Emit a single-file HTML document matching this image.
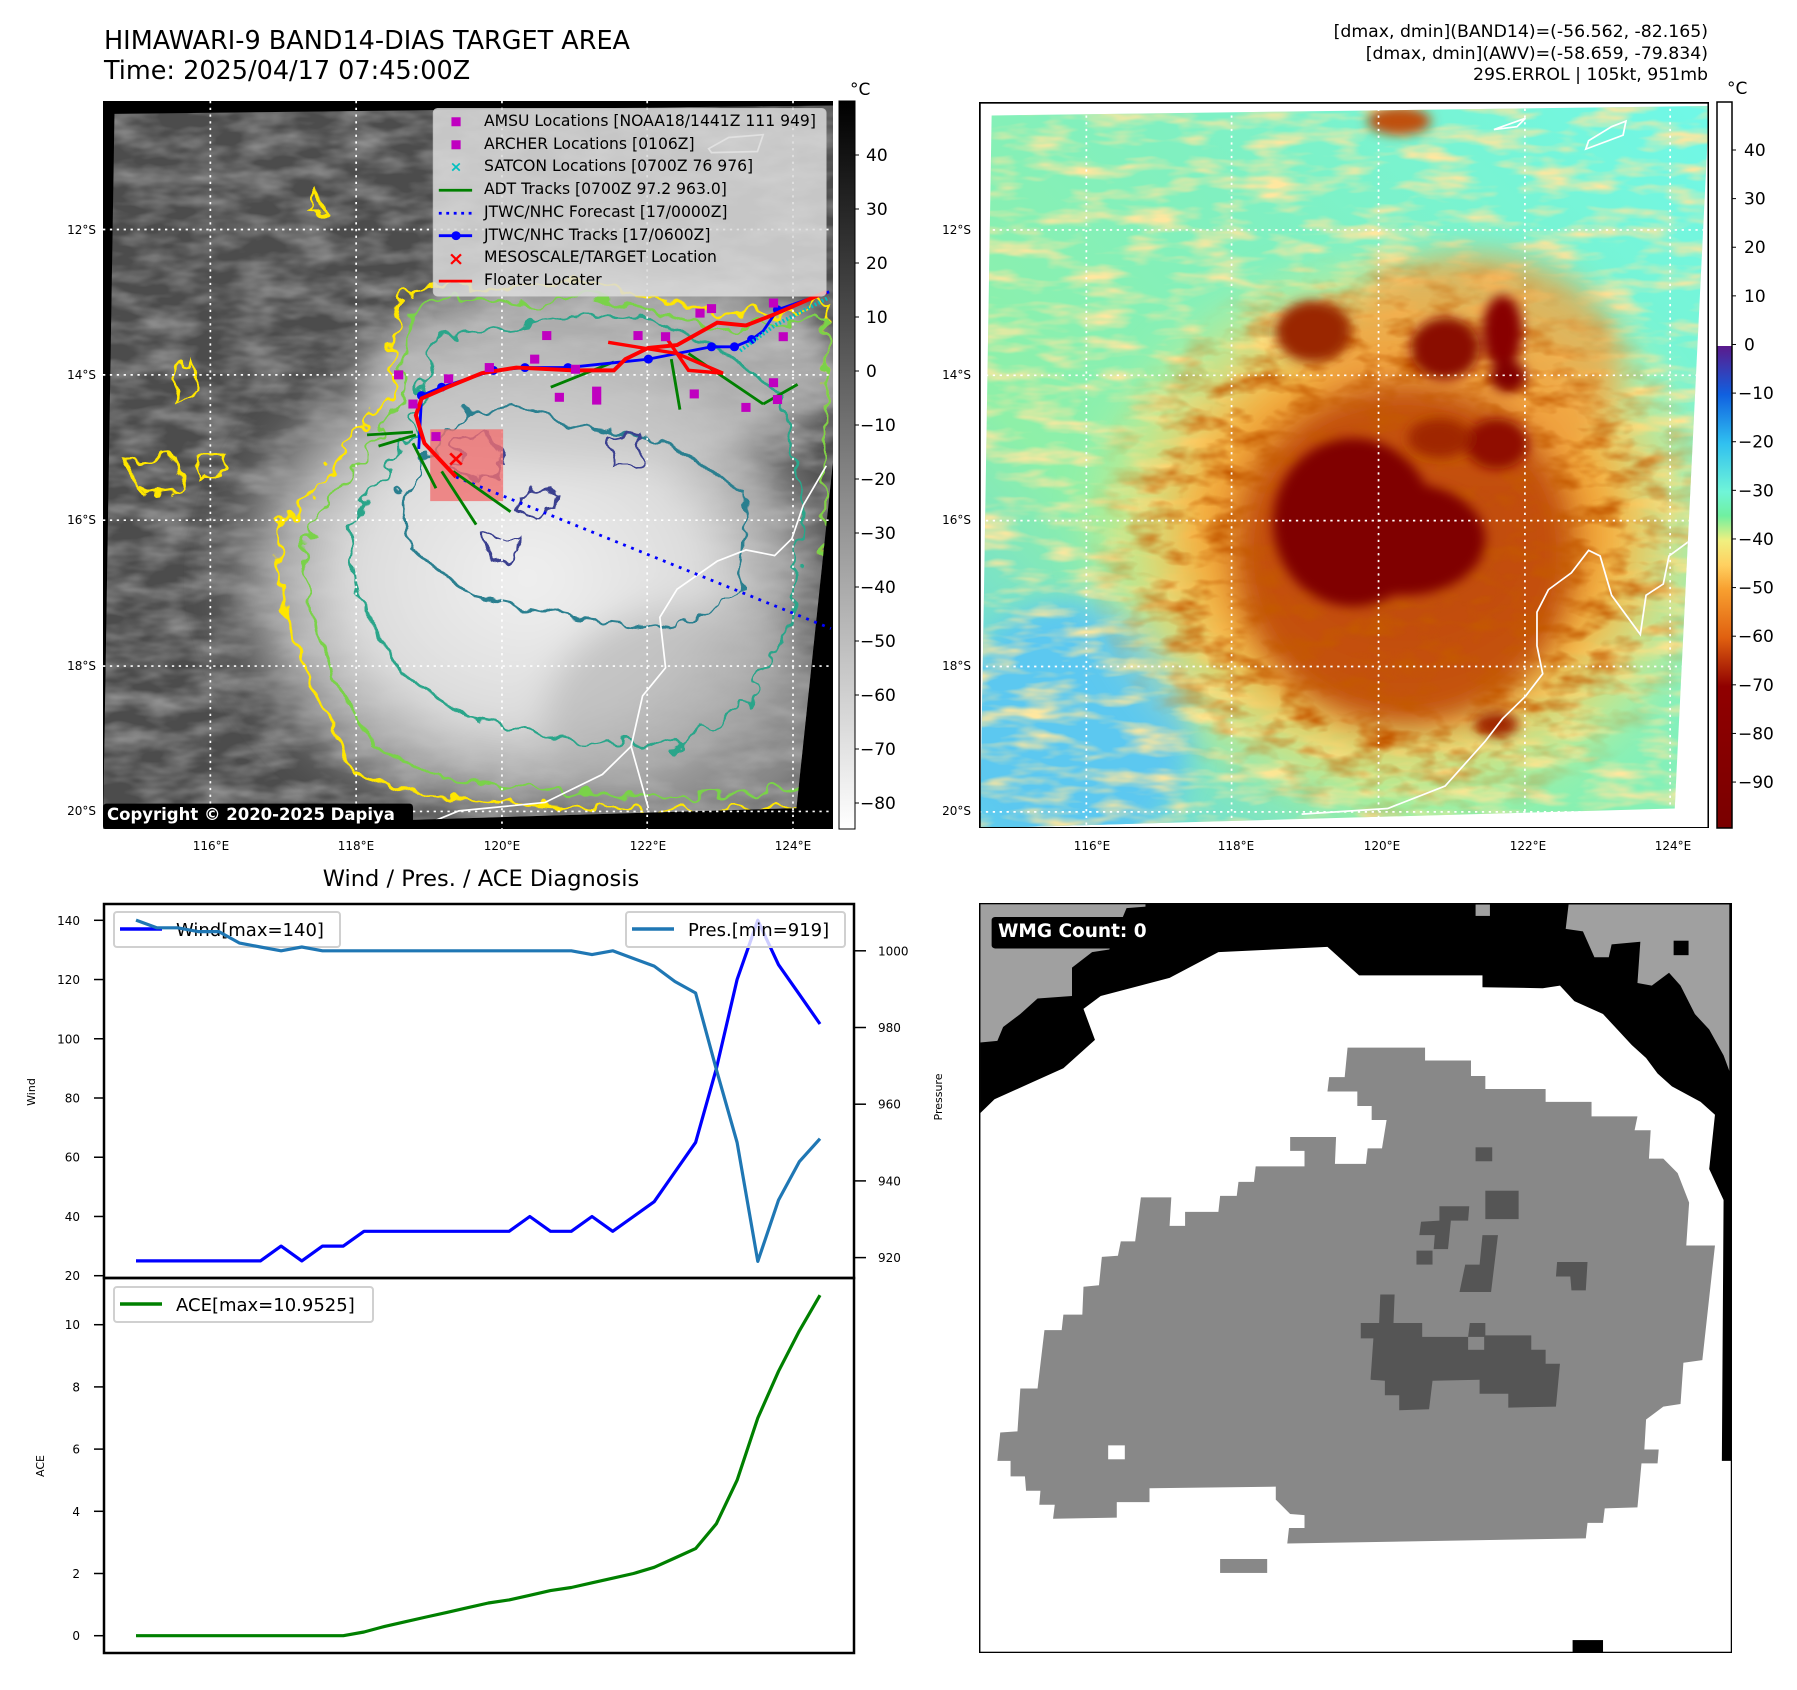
<!DOCTYPE html>
<html><head><meta charset="utf-8">
<style>
html,body{margin:0;padding:0;background:#fff;}
body{width:1797px;height:1690px;position:relative;overflow:hidden;font-family:"DejaVu Sans","Liberation Sans",sans-serif;color:#000;}
.abs{position:absolute;}
.t{position:absolute;white-space:nowrap;}
</style></head>
<body>
<div class="t" style="left:104px;top:26px;font-size:25.5px;line-height:30px;">HIMAWARI-9 BAND14-DIAS TARGET AREA<br>Time: 2025/04/17 07:45:00Z</div>
<div class="t" style="right:89px;top:22px;font-size:17.3px;line-height:21.5px;text-align:right;">[dmax, dmin](BAND14)=(-56.562, -82.165)<br>[dmax, dmin](AWV)=(-58.659, -79.834)<br>29S.ERROL | 105kt, 951mb</div>

<!-- MAP 1 -->
<svg class="abs" style="left:103.3px;top:101px;width:730.2px;height:728.4px" viewBox="180 180 1272 1298" preserveAspectRatio="none">
<defs>
<filter id="tex1" x="0" y="0" width="1" height="1"><feTurbulence type="fractalNoise" baseFrequency="0.012 0.03" numOctaves="3" seed="4"/><feColorMatrix type="matrix" values="0 0 0 0 0.42  0 0 0 0 0.42  0 0 0 0 0.42  0 0 0 1.3 -0.45"/></filter>
<filter id="wig" x="-10%" y="-10%" width="120%" height="120%"><feTurbulence type="fractalNoise" baseFrequency="0.03" numOctaves="2" seed="7" result="n"/><feDisplacementMap in="SourceGraphic" in2="n" scale="45"/></filter>
<filter id="bl1"><feGaussianBlur stdDeviation="30"/></filter>
<radialGradient id="cl1" cx="0.5" cy="0.5" r="0.5"><stop offset="0" stop-color="#f0f0f0"/><stop offset="0.55" stop-color="#dcdcdc"/><stop offset="0.8" stop-color="#b8b8b8" stop-opacity="0.8"/><stop offset="1" stop-color="#888" stop-opacity="0"/></radialGradient>
<clipPath id="img1"><polygon points="200,203 1452,188 1452,820 1388,1440 180,1478"/></clipPath>
</defs>
<rect x="180" y="180" width="1272" height="1298" fill="#000"/>
<g clip-path="url(#img1)">
<rect x="180" y="180" width="1272" height="1298" fill="#4c4c4c"/>
<rect x="180" y="180" width="1272" height="1298" filter="url(#tex1)"/>
<g filter="url(#bl1)">
<ellipse cx="920" cy="1030" rx="560" ry="470" fill="url(#cl1)"/>
<ellipse cx="1050" cy="660" rx="420" ry="170" fill="#c8c8c8" opacity="0.75"/>
<ellipse cx="1200" cy="1280" rx="250" ry="200" fill="#b0b0b0" opacity="0.6"/>
</g>
<g fill="none" stroke-width="5" filter="url(#wig)">
<path d="M700,520 L800,505 L900,520 L1000,500 L1100,520 L1250,560 L1350,560 L1440,540 L1440,1440 L1200,1445 L1000,1440 L750,1420 L620,1380 L560,1250 L500,1100 L480,950 L560,850 L620,780 L680,700 L690,580 Z" stroke="#ffe600"/>
<path d="M330,640 L350,700 L310,720 L300,680 Z M220,820 L300,810 L320,870 L250,880 Z M550,340 L570,380 L545,380 Z M350,820 L400,820 L390,850 L340,845 Z" stroke="#ffe600"/>
<path d="M720,545 L820,530 L920,545 L1010,525 L1110,545 L1240,585 L1440,570 L1440,1400 L1200,1420 L1000,1410 L770,1390 L650,1330 L590,1220 L540,1090 L530,960 L600,860 L650,790 L700,720 L710,600 Z" stroke="#7ad24a"/>
<path d="M760,600 L900,580 L1020,560 L1140,570 L1250,620 L1360,700 L1400,900 L1380,1100 L1300,1250 L1180,1330 L1000,1320 L820,1280 L700,1200 L630,1080 L610,940 L670,840 L720,760 Z" stroke="#2ca58a"/>
<path d="M800,740 L900,720 L1000,760 L1150,780 L1300,880 L1290,1050 L1180,1120 L1000,1100 L820,1060 L720,980 L700,880 Z" stroke="#2b7f8f"/>
<path d="M800,790 L860,780 L880,830 L840,860 L790,840 Z M1060,780 L1110,770 L1120,820 L1070,830 Z M850,960 L900,950 L910,990 L860,1000 Z M900,880 L960,870 L970,910 L910,920 Z" stroke="#3a3f8f"/>
</g>
<path d="M1130,1440 L1100,1330 L1120,1240 L1160,1190 L1150,1100 L1180,1050 L1250,1000 L1300,980 L1350,990 L1380,960 L1400,900 L1440,830" fill="none" stroke="#fff" stroke-width="3"/>
<path d="M740,1470 L800,1445 L950,1430 L1050,1380 L1100,1330" fill="none" stroke="#fff" stroke-width="3"/>
<path d="M1235,265 L1270,245 L1330,240 L1320,270 L1240,272 Z" fill="none" stroke="#fff" stroke-width="3"/>
</g>
<g stroke="#fff" stroke-width="3" stroke-dasharray="4 8">
<line x1="367" y1="180" x2="367" y2="1478"/><line x1="621" y1="180" x2="621" y2="1478"/><line x1="875" y1="180" x2="875" y2="1478"/><line x1="1128" y1="180" x2="1128" y2="1478"/><line x1="1382" y1="180" x2="1382" y2="1478"/>
<line x1="180" y1="409" x2="1452" y2="409"/><line x1="180" y1="668" x2="1452" y2="668"/><line x1="180" y1="927" x2="1452" y2="927"/><line x1="180" y1="1187" x2="1452" y2="1187"/><line x1="180" y1="1446" x2="1452" y2="1446"/>
</g>
<rect x="750" y="765" width="127" height="128" fill="#f07070" opacity="0.8"/>
<line x1="795" y1="850" x2="1448" y2="1120" stroke="#0000ff" stroke-width="5" stroke-dasharray="5 10"/>
<g stroke="#008000" stroke-width="5">
<line x1="640" y1="775" x2="720" y2="770"/><line x1="720" y1="790" x2="760" y2="870"/><line x1="770" y1="840" x2="830" y2="935"/><line x1="790" y1="840" x2="890" y2="912"/><line x1="960" y1="690" x2="1070" y2="645"/><line x1="1170" y1="640" x2="1185" y2="730"/><line x1="1200" y1="630" x2="1330" y2="720"/><line x1="1330" y1="720" x2="1390" y2="685"/><line x1="660" y1="795" x2="725" y2="775"/>
</g>
<polyline points="730,800 735,705 770,690 860,660 915,655 990,655 1130,640 1240,618 1280,618 1310,605 1330,590 1355,552 1445,520" fill="none" stroke="#0000ff" stroke-width="5"/>
<g fill="#0000ff"><circle cx="735" cy="705" r="8"/><circle cx="770" cy="690" r="8"/><circle cx="860" cy="660" r="8"/><circle cx="915" cy="655" r="8"/><circle cx="990" cy="655" r="8"/><circle cx="1130" cy="640" r="8"/><circle cx="1240" cy="618" r="8"/><circle cx="1280" cy="618" r="8"/><circle cx="1310" cy="605" r="8"/><circle cx="1355" cy="552" r="8"/></g>
<polyline points="1290,625 1350,580 1445,530" fill="none" stroke="#00c0c0" stroke-width="7" stroke-dasharray="3 4"/>
<polyline points="795,850 740,790 725,740 735,710 780,690 840,665 900,655 1000,660 1070,660 1090,640 1130,620 1180,615 1250,575 1300,580 1350,560 1440,520" fill="none" stroke="#ff0000" stroke-width="7"/>
<polyline points="1060,610 1180,630 1260,665 1200,660 1160,600" fill="none" stroke="#ff0000" stroke-width="6"/>
<g fill="#c000c0">
<rect x="687" y="660" width="16" height="16"/><rect x="712" y="712" width="16" height="16"/><rect x="774" y="667" width="16" height="16"/><rect x="752" y="770" width="16" height="16"/><rect x="845" y="647" width="16" height="16"/><rect x="924" y="632" width="16" height="16"/><rect x="945" y="590" width="16" height="16"/><rect x="967" y="700" width="16" height="16"/><rect x="995" y="650" width="16" height="16"/><rect x="1032" y="689" width="16" height="32"/><rect x="1104" y="590" width="16" height="16"/><rect x="1152" y="592" width="16" height="16"/><rect x="1202" y="694" width="16" height="16"/><rect x="1212" y="550" width="16" height="16"/><rect x="1232" y="542" width="16" height="16"/><rect x="1292" y="718" width="16" height="16"/><rect x="1340" y="532" width="16" height="16"/><rect x="1340" y="674" width="16" height="16"/><rect x="1347" y="704" width="16" height="16"/><rect x="1357" y="592" width="16" height="16"/></g>
<text x="795" y="830" fill="#ff0000" font-size="40" font-weight="bold" text-anchor="middle">×</text>
<g>
<rect x="755" y="193" width="685" height="335" rx="8" fill="#dcdcdc" opacity="0.85" stroke="#ccc"/>
<rect x="787" y="209" width="16" height="16" fill="#c000c0"/>
<rect x="787" y="250" width="16" height="16" fill="#c000c0"/>
<text x="795" y="306" fill="#00c0c0" font-size="26" font-weight="bold" text-anchor="middle">×</text>
<line x1="765" y1="339" x2="823" y2="339" stroke="#008000" stroke-width="5"/>
<line x1="765" y1="380" x2="823" y2="380" stroke="#0000ff" stroke-width="5" stroke-dasharray="5 8"/>
<line x1="765" y1="420" x2="823" y2="420" stroke="#0000ff" stroke-width="5"/><circle cx="795" cy="420" r="8" fill="#0000ff"/>
<text x="795" y="472" fill="#ff0000" font-size="34" font-weight="bold" text-anchor="middle">×</text>
<line x1="765" y1="501" x2="823" y2="501" stroke="#ff0000" stroke-width="5"/>
</g>
<rect x="180" y="1432" width="540" height="46" rx="6" fill="#000"/>
</svg>
<div class="t" style="left:484px;top:110px;font-size:15.6px;line-height:22.7px;">AMSU Locations [NOAA18/1441Z 111 949]<br>ARCHER Locations [0106Z]<br>SATCON Locations [0700Z 76 976]<br>ADT Tracks [0700Z 97.2 963.0]<br>JTWC/NHC Forecast [17/0000Z]<br>JTWC/NHC Tracks [17/0600Z]<br>MESOSCALE/TARGET Location<br>Floater Locater</div>
<div class="t" style="left:107px;top:805px;font-size:16.5px;font-weight:bold;color:#fff;">Copyright © 2020-2025 Dapiya</div>

<!-- MAP 2 -->
<svg class="abs" style="left:979.2px;top:101.6px;width:730.2px;height:726.7px" viewBox="138 181 1272 1295" preserveAspectRatio="none">
<defs>
<linearGradient id="bg2" x1="1" y1="0" x2="0" y2="1"><stop offset="0" stop-color="#6ff8e8"/><stop offset="0.4" stop-color="#80f0c0"/><stop offset="0.7" stop-color="#8ef0a8"/><stop offset="1" stop-color="#60d0f0"/></linearGradient>
<filter id="bl2"><feGaussianBlur stdDeviation="25"/></filter>
<filter id="bl3"><feGaussianBlur stdDeviation="10"/></filter>
<filter id="tex2" x="0" y="0" width="1" height="1"><feTurbulence type="fractalNoise" baseFrequency="0.01 0.035" numOctaves="3" seed="9"/><feColorMatrix type="matrix" values="0 0 0 0 1  0 0 0 0 0.8  0 0 0 0 0.35  0 0 0 2.6 -1.15"/></filter>
<filter id="tex3" x="0" y="0" width="1" height="1"><feTurbulence type="fractalNoise" baseFrequency="0.015 0.03" numOctaves="3" seed="3"/><feColorMatrix type="matrix" values="0 0 0 0 0.55  0 0 0 0 0.1  0 0 0 0 0  0 0 0 2.2 -0.95"/></filter>
<radialGradient id="or2" cx="0.5" cy="0.5" r="0.5"><stop offset="0" stop-color="#c04808"/><stop offset="0.4" stop-color="#e07a20"/><stop offset="0.62" stop-color="#f5b040"/><stop offset="0.8" stop-color="#fbd868" stop-opacity="0.6"/><stop offset="1" stop-color="#f0f080" stop-opacity="0"/></radialGradient>
<radialGradient id="mk2" cx="0.5" cy="0.5" r="0.5"><stop offset="0" stop-color="#fff"/><stop offset="0.7" stop-color="#fff"/><stop offset="1" stop-color="#000"/></radialGradient>
<mask id="m2"><ellipse cx="880" cy="960" rx="560" ry="520" fill="url(#mk2)"/></mask>
<clipPath id="img2"><polygon points="160,205 1410,188 1350,1440 140,1475"/></clipPath>
</defs>
<rect x="138" y="181" width="1272" height="1295" fill="#fff"/>
<g clip-path="url(#img2)">
<rect x="138" y="181" width="1272" height="1295" fill="url(#bg2)"/>
<ellipse cx="300" cy="1300" rx="210" ry="230" fill="#5cc8f0" filter="url(#bl2)"/>
<rect x="138" y="181" width="1272" height="1295" filter="url(#tex2)"/>
<g filter="url(#bl2)">
<ellipse cx="880" cy="950" rx="580" ry="520" fill="url(#or2)"/>
<ellipse cx="1000" cy="650" rx="260" ry="200" fill="#f0a040" opacity="0.7"/>
<ellipse cx="880" cy="990" rx="300" ry="310" fill="#c04a08" opacity="0.9"/>
</g>
<rect x="138" y="181" width="1272" height="1295" filter="url(#tex3)" mask="url(#m2)"/>
<g filter="url(#bl3)">
<ellipse cx="790" cy="930" rx="140" ry="150" fill="#800000"/>
<ellipse cx="880" cy="960" rx="140" ry="100" fill="#800000"/>
<ellipse cx="720" cy="590" rx="65" ry="55" fill="#9a2800"/>
<ellipse cx="950" cy="620" rx="60" ry="55" fill="#8a1000"/>
<ellipse cx="1050" cy="590" rx="35" ry="65" fill="#880000"/>
<ellipse cx="1060" cy="670" rx="32" ry="28" fill="#800000"/>
<ellipse cx="1040" cy="790" rx="55" ry="45" fill="#900800"/>
<ellipse cx="940" cy="780" rx="55" ry="35" fill="#a02800"/>
<ellipse cx="1040" cy="1290" rx="38" ry="22" fill="#a02800"/>
<ellipse cx="870" cy="215" rx="55" ry="25" fill="#c05010"/>
</g>
<path d="M700,1450 L850,1440 L950,1400 L1020,1320 L1050,1280 L1090,1240 L1120,1200 L1110,1150 L1110,1090 L1130,1050 L1170,1020 L1200,980 L1220,990 L1240,1060 L1290,1130 L1300,1060 L1330,1040 L1340,990 L1380,960 L1400,900" fill="none" stroke="#fff" stroke-width="3"/>
<path d="M1195,265 L1260,240 L1265,215 L1240,225 L1200,250 Z M1035,230 L1090,210 L1075,225 Z" fill="none" stroke="#fff" stroke-width="3"/>
</g>
<g stroke="#fff" stroke-width="3" stroke-dasharray="4 8">
<line x1="325" y1="181" x2="325" y2="1476"/><line x1="578" y1="181" x2="578" y2="1476"/><line x1="834" y1="181" x2="834" y2="1476"/><line x1="1089" y1="181" x2="1089" y2="1476"/><line x1="1342" y1="181" x2="1342" y2="1476"/>
<line x1="138" y1="409" x2="1410" y2="409"/><line x1="138" y1="668" x2="1410" y2="668"/><line x1="138" y1="927" x2="1410" y2="927"/><line x1="138" y1="1187" x2="1410" y2="1187"/><line x1="138" y1="1446" x2="1410" y2="1446"/>
</g>
<rect x="138" y="181" width="1272" height="1295" fill="none" stroke="#000" stroke-width="6"/>
</svg>

<!-- WMG panel -->
<svg class="abs" style="left:979.2px;top:903.2px;width:753.2px;height:750px" viewBox="138 45 1312 1452" preserveAspectRatio="none">
<rect x="138" y="45" width="1312" height="1452" fill="#fff"/>
<polygon fill="#000" points="140,45 1450,45 1450,1125 1432,1125 1435,620 1410,560 1420,455 1395,430 1345,400 1320,375 1300,345 1275,320 1250,290 1225,260 1175,235 1150,205 1120,210 1015,208 1015,185 800,185 745,130 555,140 470,190 350,225 320,250 340,310 285,365 225,395 165,425 140,452"/>
<polygon fill="#a0a0a0" points="140,45 428,45 428,52 395,55 365,135 335,140 300,170 300,225 240,230 210,260 180,285 170,312 140,315"/>
<polygon fill="#a0a0a0" points="1165,48 1445,48 1445,370 1435,340 1410,290 1385,260 1360,205 1340,180 1310,205 1285,200 1290,120 1240,125 1235,150 1210,150 1190,100 1160,95"/>
<rect x="1003" y="48" width="25" height="22" fill="#a0a0a0"/>
<rect x="1348" y="118" width="26" height="28" fill="#000"/>
<polygon fill="#888" points="780,325 915,325 915,350 995,350 995,380 1020,380 1020,405 1125,405 1125,430 1205,430 1205,458 1285,458 1280,485 1308,485 1305,540 1330,540 1355,568 1375,625 1370,708 1420,708 1398,930 1365,935 1360,1015 1330,1020 1300,1045 1297,1103 1322,1103 1320,1130 1292,1130 1285,1215 1228,1217 1225,1245 1198,1245 1195,1275 675,1285 678,1255 705,1255 705,1230 680,1228 655,1200 655,1175 435,1178 435,1205 378,1205 378,1235 267,1237 270,1210 243,1210 245,1183 220,1183 218,1155 193,1155 193,1125 170,1125 175,1070 205,1068 210,985 240,985 252,872 282,872 285,842 318,842 320,788 347,785 352,730 380,728 385,700 410,700 420,615 473,615 470,670 497,670 497,643 555,643 558,612 587,612 590,585 617,585 620,555 705,555 705,525 680,525 680,498 760,498 758,550 812,550 815,520 840,520 848,465 822,465 822,438 797,438 797,410 745,410 748,382 775,382"/>
<rect x="363" y="1095" width="29" height="27" fill="#fff"/>
<rect x="558" y="1315" width="82" height="27" fill="#888"/>
<g fill="#555">
<rect x="1003" y="518" width="29" height="27"/><rect x="1020" y="602" width="58" height="55"/>
<polygon points="940,632 992,632 990,660 960,660 955,715 930,715 932,688 905,688 908,662 940,660"/>
<rect x="900" y="718" width="28" height="27"/>
<polygon points="1015,688 1042,688 1030,798 975,798 985,745 1010,745"/>
<polygon points="1145,740 1198,740 1195,795 1170,795 1168,768 1143,768"/>
<polygon points="837,803 862,803 860,858 910,858 910,885 990,885 993,858 1020,858 1020,882 1100,882 1100,910 1125,910 1125,937 1150,937 1143,1020 1060,1022 1060,995 1010,995 1010,968 928,970 922,1025 870,1027 870,998 845,998 845,970 820,968 825,888 803,888 803,858 835,858"/>
</g>
<rect x="990" y="885" width="28" height="25" fill="#888"/>
<rect x="1172" y="1472" width="53" height="25" fill="#000"/>
<rect x="160" y="72" width="240" height="61" rx="6" fill="#000"/>
<rect x="138" y="45" width="1312" height="1452" fill="none" stroke="#000" stroke-width="5"/>
</svg>
<div class="t" style="left:998px;top:921px;font-size:18.5px;font-weight:bold;color:#fff;">WMG Count: 0</div>

<svg id="ov" class="abs" style="left:0;top:0" width="1797" height="1690">
<defs>
<linearGradient id="cb1" x1="0" y1="0" x2="0" y2="1"><stop offset="0" stop-color="#000"/><stop offset="1" stop-color="#fff"/></linearGradient>
<linearGradient id="cb2" x1="0" y1="0" x2="0" y2="1">
<stop offset="0" stop-color="#fff"/><stop offset="0.336" stop-color="#fff"/><stop offset="0.336" stop-color="#5b1a8c"/><stop offset="0.403" stop-color="#1060e0"/><stop offset="0.47" stop-color="#30c0f0"/><stop offset="0.537" stop-color="#70f5d8"/><stop offset="0.57" stop-color="#70f0a0"/><stop offset="0.604" stop-color="#f0f080"/><stop offset="0.638" stop-color="#ffd060"/><stop offset="0.671" stop-color="#f8a030"/><stop offset="0.738" stop-color="#e06010"/><stop offset="0.805" stop-color="#900000"/><stop offset="1" stop-color="#7a0000"/></linearGradient>
</defs>
<rect x="839" y="101" width="16" height="728" fill="url(#cb1)" stroke="#000" stroke-width="1"/>
<rect x="1717" y="102" width="15" height="726" fill="url(#cb2)" stroke="#000" stroke-width="1.5"/>
<text x="850" y="95" font-size="17">°C</text>
<text x="1727" y="94" font-size="17">°C</text>
<g id="axesg" font-size="12" fill="#000"></g>
</svg>

<script>
// ---- chart data ----
const timeIdx = [0,1,2,3,4,5,6,7,8,9,10,11,12,13,14,15,16,17,18,19,20,21,22,23,24,25,26,27,28,29,30,31,32,33];
const windVals = [25,25,25,25,25,25,25,30,25,30,30,35,35,35,35,35,35,35,35,40,35,35,40,35,40,45,55,65,90,120,140,125,115,105];
const presVals = [1008,1006,1006,1005,1005,1002,1001,1000,1001,1000,1000,1000,1000,1000,1000,1000,1000,1000,1000,1000,1000,1000,999,1000,998,996,992,989,969,950,919,935,945,951];
const aceVals = [0,0,0,0,0,0,0,0,0,0,0,0.12,0.3,0.45,0.6,0.75,0.9,1.05,1.15,1.3,1.45,1.55,1.7,1.85,2.0,2.2,2.5,2.8,3.6,5.0,7.0,8.5,9.8,10.95];
const windTicks = [20,40,60,80,100,120,140];
const presTicks = [920,940,960,980,1000];
const aceTicks = [0,2,4,6,8,10];
const cb1Ticks = [40,30,20,10,0,-10,-20,-30,-40,-50,-60,-70,-80];
const cb2Ticks = [40,30,20,10,0,-10,-20,-30,-40,-50,-60,-70,-80,-90];
const lonTicks = ["116°E","118°E","120°E","122°E","124°E"];
const latTicks = ["12°S","14°S","16°S","18°S","20°S"];

const NS = "http://www.w3.org/2000/svg";
const g = document.getElementById('axesg');
function mk(tag, attrs, parent){const e=document.createElementNS(NS,tag);for(const k in attrs)e.setAttribute(k,attrs[k]);(parent||g).appendChild(e);return e;}
const xS = i => 136 + i*(820-136)/(timeIdx.length-1);
const yWind = v => 1275.7 - (v-20)*(355.4/120);
const yPres = p => 950.8 + (1000-p)*(306.8/80);
const yAce = v => 1635.7 - v*31.1;
const yCb1 = v => 155 + (40-v)*5.4;
const yCb2 = v => 150 + (40-v)*4.862;

let e;
e=mk('rect',{x:104,y:904,width:750,height:374,fill:'none',stroke:'#000','stroke-width':2.5});


e=mk('rect',{x:104,y:1278,width:750,height:375,fill:'none',stroke:'#000','stroke-width':2.5});



function tickL(y,label,name){
  mk('line',{x1:94,y1:y,x2:104,y2:y,stroke:'#000','stroke-width':1.5});
  const t=mk('text',{x:80,y:y+4.5,'text-anchor':'end','font-size':12});t.textContent=label;
  
  
}
windTicks.forEach(v=>tickL(yWind(v),v,'wind-tick-label'));
aceTicks.forEach(v=>tickL(yAce(v),v,'ace-tick-label'));
presTicks.forEach(v=>{
  mk('line',{x1:855,y1:yPres(v),x2:866,y2:yPres(v),stroke:'#000','stroke-width':1.5});
  const t=mk('text',{x:878,y:yPres(v)+4.5,'font-size':12});t.textContent=v;
  
  
});
cb1Ticks.forEach(v=>{
  mk('line',{x1:855,y1:yCb1(v),x2:859,y2:yCb1(v),stroke:'#000'});
  const t=mk('text',{x:v<0?860:866,y:yCb1(v)+6,'font-size':17});t.textContent=(v<0?'\u2212'+(-v):v);
  
  
});
cb2Ticks.forEach(v=>{
  mk('line',{x1:1732,y1:yCb2(v),x2:1736,y2:yCb2(v),stroke:'#000'});
  const t=mk('text',{x:v<0?1738:1744,y:yCb2(v)+6,'font-size':17});t.textContent=(v<0?'\u2212'+(-v):v);
  
  
});
const lonX1=[211,356,502,648,793], lonX2=[1092,1236,1382,1528,1673], latY=[230,375,520,666,811];
lonTicks.forEach((s,i)=>{
  [lonX1[i],lonX2[i]].forEach(x=>{const t=mk('text',{x:x,y:850,'text-anchor':'middle','font-size':12});t.textContent=s;
  
  });
});
latTicks.forEach((s,i)=>{
  [96,971].forEach(x=>{const t=mk('text',{x:x,y:latY[i]+4,'text-anchor':'end','font-size':12});t.textContent=s;
  
  });
});
e=mk('text',{x:481,y:886,'text-anchor':'middle','font-size':22.5});e.textContent='Wind / Pres. / ACE Diagnosis';


e=mk('text',{x:0,y:0,'text-anchor':'middle','font-size':11,transform:'translate(35,1092) rotate(-90)'});e.textContent='Wind';


e=mk('text',{x:0,y:0,'text-anchor':'middle','font-size':11,transform:'translate(44,1466) rotate(-90)'});e.textContent='ACE';


e=mk('text',{x:0,y:0,'text-anchor':'middle','font-size':11,transform:'translate(942,1097) rotate(-90)'});e.textContent='Pressure';



function legend(x,y,w,color,label,name){
  const r=mk('rect',{x:x,y:y,width:w,height:35,rx:3,fill:'#fff','fill-opacity':0.8,stroke:'#d0d0d0','stroke-width':2});
  
  
  mk('line',{x1:x+6,y1:y+17,x2:x+48,y2:y+17,stroke:color,'stroke-width':3.5});
  const t=mk('text',{x:x+62,y:y+24,'font-size':18});t.textContent=label;
  
  
}
legend(114,912,226,'#0000ff','Wind[max='+Math.max(...windVals)+']','wind-legend');
legend(114,1287,259,'#008000','ACE[max=10.9525]','ace-legend');

function line(vals,yf,color,name){
  const p=mk('polyline',{points:vals.map((v,i)=>xS(i).toFixed(1)+','+yf(v).toFixed(1)).join(' '),fill:'none',stroke:color,'stroke-width':3.2,'stroke-linejoin':'round'});
  
  
}
line(windVals,yWind,'#0000ff','wind-line');
line(aceVals,yAce,'#008000','ace-line');
legend(626,912,219,'#1f77b4','Pres.[min='+Math.min(...presVals)+']','pres-legend');
line(presVals,yPres,'#1f77b4','pressure-line');
</script>
</body></html>
